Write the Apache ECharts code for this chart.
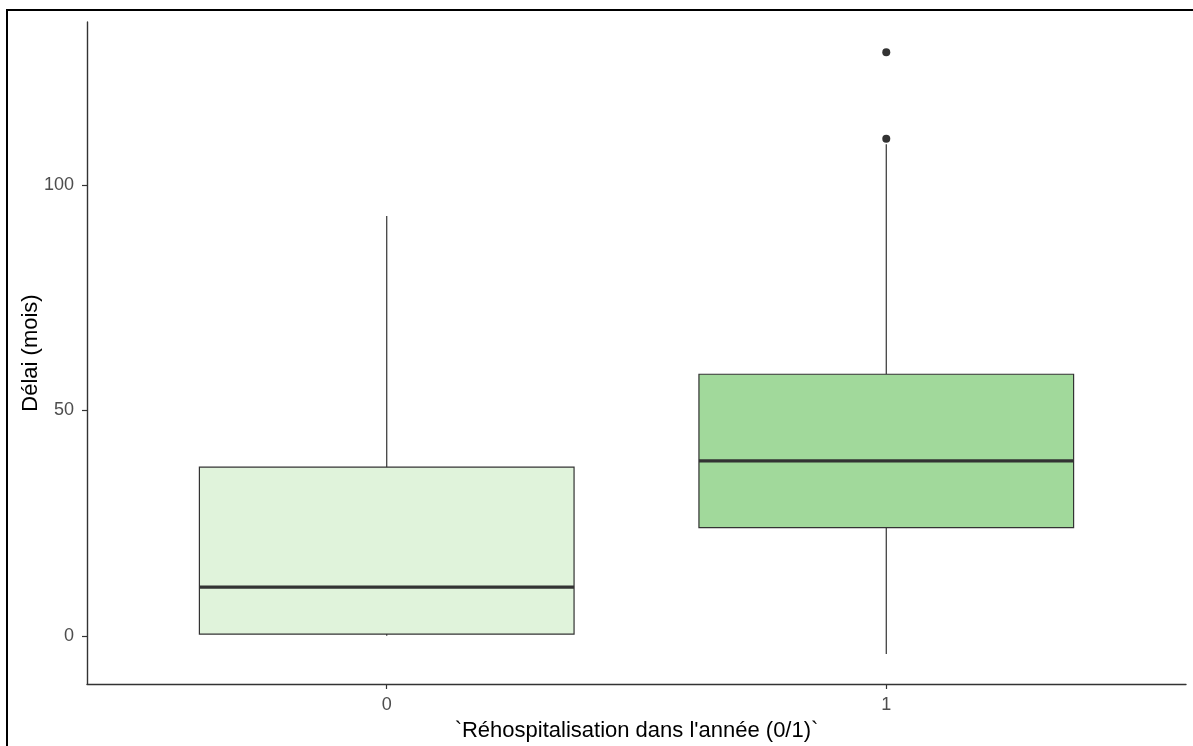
<!DOCTYPE html>
<html>
<head>
<meta charset="utf-8">
<script src="https://cdn.jsdelivr.net/npm/echarts@6/dist/echarts.min.js"></script>
<style>
  html, body { margin: 0; padding: 0; background: #fff; }
  #chart { width: 1193px; height: 746px; }
</style>
</head>
<body>
<div id="chart"></div>
<script>
// Groups on the x axis and their tick labels
const categories = ['0', '1'];
// Five-number summaries per group: lower whisker, Q1, median, Q3, upper whisker
const lowerWhisker = [0, -4];
const q1 = [0.4, 24];
const median = [10.8, 38.8];
const q3 = [37.4, 58];
const upperWhisker = [93.1, 109];
// Outliers: [group index, value]
const outliers = [[1, 110.2], [1, 129.4]];
// Y tick values
const yTicks = [0, 50, 100];

const fills = ['#E0F3DB', '#A1D99B'];
const FONT = 'Liberation Sans, Arial, sans-serif';

const boxData = categories.map((c, i) => [i, lowerWhisker[i], q1[i], median[i], q3[i], upperWhisker[i]]);

function renderBox(params, api) {
  const x = api.value(0);
  const lo = api.coord([x, api.value(1)]);
  const b1 = api.coord([x, api.value(2)]);
  const md = api.coord([x, api.value(3)]);
  const b3 = api.coord([x, api.value(4)]);
  const hi = api.coord([x, api.value(5)]);
  const w = api.size([0.75, 0])[0];
  const left = lo[0] - w / 2;
  const stroke = '#333333';
  return {
    type: 'group',
    children: [
      { type: 'line', shape: { x1: lo[0], y1: hi[1], x2: lo[0], y2: b3[1] }, style: { stroke, lineWidth: 1.2 } },
      { type: 'line', shape: { x1: lo[0], y1: b1[1], x2: lo[0], y2: lo[1] }, style: { stroke, lineWidth: 1.2 } },
      { type: 'rect', shape: { x: left, y: b3[1], width: w, height: b1[1] - b3[1] },
        style: { fill: fills[params.dataIndex], stroke, lineWidth: 1.2 } },
      { type: 'line', shape: { x1: left, y1: md[1], x2: left + w, y2: md[1] }, style: { stroke, lineWidth: 3.2 } }
    ]
  };
}

const chart = echarts.init(document.getElementById('chart'), null, { renderer: 'canvas' });
chart.setOption({
  animation: false,
  backgroundColor: '#ffffff',
  textStyle: { fontFamily: FONT },
  grid: { left: 87, right: 7, top: 22, bottom: 62, containLabel: false, outerBoundsMode: 'none' },
  xAxis: {
    type: 'value',
    min: -0.6,
    max: 1.6,
    name: '`Réhospitalisation dans l\'année (0/1)`',
    nameLocation: 'middle',
    nameGap: 36,
    nameMoveOverlap: false,
    nameTextStyle: { fontSize: 22, color: '#000', fontFamily: FONT },
    axisLine: { show: true, onZero: false, lineStyle: { color: '#333', width: 1.4 } },
    axisTick: { show: true, length: 5, customValues: categories.map((c, i) => i), lineStyle: { color: '#333', width: 1.2 } },
    axisLabel: {
      customValues: categories.map((c, i) => i),
      formatter: v => categories[Math.round(v)],
      fontSize: 18, color: '#4D4D4D', margin: 12, fontFamily: FONT
    },
    splitLine: { show: false }
  },
  yAxis: {
    type: 'value',
    min: -10.67,
    max: 136.1,
    name: 'Délai (mois)',
    nameLocation: 'middle',
    nameGap: 45,
    nameMoveOverlap: false,
    nameTextStyle: { fontSize: 22, color: '#000', fontFamily: FONT },
    axisLine: { show: true, onZero: false, lineStyle: { color: '#333', width: 1.4 } },
    axisTick: { show: true, length: 5, customValues: yTicks, lineStyle: { color: '#333', width: 1.2 } },
    axisLabel: { customValues: yTicks, fontSize: 18, color: '#4D4D4D', margin: 13, fontFamily: FONT },
    splitLine: { show: false }
  },
  series: [
    {
      type: 'custom',
      renderItem: renderBox,
      encode: { x: 0, y: [1, 2, 3, 4, 5] },
      data: boxData,
      z: 2
    },
    {
      type: 'scatter',
      data: outliers,
      symbol: 'circle',
      symbolSize: 8,
      itemStyle: { color: '#333333', opacity: 1 },
      z: 3
    }
  ],
  graphic: [
    {
      type: 'rect',
      shape: { x: 7, y: 10, width: 1400, height: 1000 },
      style: { fill: 'none', stroke: '#000', lineWidth: 2 },
      silent: true,
      z: 100
    }
  ]
});
</script>
</body>
</html>
